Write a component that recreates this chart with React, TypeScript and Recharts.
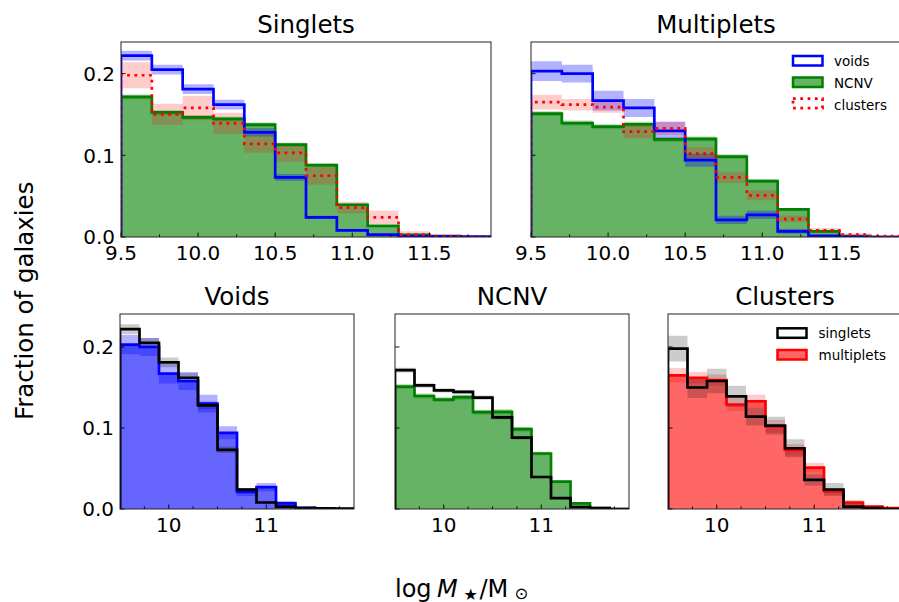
import React from 'react';
import { ComposedChart, Area, Line, XAxis, YAxis } from 'recharts';

// bin edges in log M*/Msun (0.2 dex bins)
const EDGES = [9.5, 9.7, 9.9, 10.1, 10.3, 10.5, 10.7, 10.9, 11.1, 11.3, 11.5, 11.7, 11.9];

// singlet fractions per bin
const voidsS = [0.222, 0.205, 0.181, 0.162, 0.128, 0.073, 0.024, 0.008, 0.003, 0.001, 0.0008, 0.0004];
const voidsSErr = [0.006, 0.006, 0.006, 0.006, 0.005, 0.004, 0.002, 0.0012, 0.0008, 0.0005, 0.0004, 0.0003];
const ncnvS = [0.1715, 0.1525, 0.1465, 0.1445, 0.1375, 0.113, 0.088, 0.0395, 0.0135, 0.0025, 0.001, 0];
const ncnvSErr = [0.003, 0.0028, 0.0027, 0.0027, 0.0027, 0.0024, 0.0021, 0.0014, 0.0008, 0.0004, 0.0002, 0];
const clusS = [0.198, 0.15, 0.158, 0.139, 0.114, 0.103, 0.075, 0.036, 0.024, 0.003, 0.001, 0];
const clusSErr = [0.016, 0.013, 0.015, 0.013, 0.011, 0.011, 0.011, 0.007, 0.008, 0.004, 0.001, 0];

// multiplet fractions per bin
const voidsM = [0.203, 0.2, 0.167, 0.158, 0.13, 0.094, 0.021, 0.027, 0.007, 0.0015, 0.0005, 0];
const voidsMErr = [0.012, 0.011, 0.012, 0.011, 0.011, 0.008, 0.005, 0.005, 0.003, 0.0012, 0.0006, 0];
const ncnvM = [0.151, 0.1395, 0.135, 0.138, 0.1195, 0.12, 0.0985, 0.0685, 0.0337, 0.007, 0.001, 0];
const ncnvMErr = [0.003, 0.003, 0.003, 0.003, 0.003, 0.003, 0.0027, 0.0023, 0.0016, 0.0008, 0.0003, 0];
const clusM = [0.165, 0.162, 0.159, 0.129, 0.133, 0.102, 0.073, 0.051, 0.022, 0.008, 0.003, 0.001];
const clusMErr = [0.009, 0.007, 0.007, 0.008, 0.008, 0.008, 0.007, 0.006, 0.004, 0.003, 0.0015, 0.0005];

const TOP_MAJOR = [9.5, 10.0, 10.5, 11.0, 11.5];
const TOP_LABELS = ['9.5', '10.0', '10.5', '11.0', '11.5'];
const TOP_MINOR = [9.75, 10.25, 10.75, 11.25, 11.75];
const BOTTOM_MAJOR = [10, 11];
const BOTTOM_LABELS = ['10', '11'];
const BOTTOM_MINOR = [9.75, 10.25, 10.5, 10.75, 11.25, 11.5, 11.75];
const Y_TICKS = [0, 0.1, 0.2];
const Y_LABELS = ['0.0', '0.1', '0.2'];

const FONT = '"DejaVu Sans", sans-serif';
const ML = 60;
const MR = 4;
const MT = 6;
const MB = 34;

type Layer = { kind: 'fill' | 'band' | 'line'; key: string; color: string; opacity?: number; dash?: string };

function buildRows(series: Record<string, number[]>, errors: Record<string, number[]>) {
  const keys = Object.keys(series);
  const n = EDGES.length - 1;
  const row = (x: number, bin: number, zero: boolean) => {
    const r: any = { x };
    keys.forEach((k) => {
      const v = series[k][bin];
      const e = errors[k][bin];
      r[k] = zero ? 0 : v;
      r[k + 'Band'] = [Math.max(0, v - e), v + e];
    });
    return r;
  };
  const rows = [row(EDGES[0], 0, true)];
  EDGES.forEach((x, i) => rows.push(row(x, Math.min(i, n - 1), false)));
  rows.push(row(EDGES[n], n - 1, true));
  return rows;
}

function makeXTick(majors: number[], labels: string[]) {
  return (props: any) => {
    const { x, y, payload } = props;
    const idx = majors.findIndex((m) => Math.abs(m - payload.value) < 1e-6);
    const major = idx >= 0;
    return (
      <g>
        <line x1={x} x2={x} y1={y} y2={y - (major ? 4.5 : 2.7)} stroke="#000" strokeWidth={0.9} />
        {major && (
          <text x={x} y={y + 22.5} textAnchor="middle" fontSize={20} fontFamily={FONT} fill="#000">
            {labels[idx]}
          </text>
        )}
      </g>
    );
  };
}

function makeYTick(showLabels: boolean) {
  return (props: any) => {
    const { x, y, payload } = props;
    const idx = Y_TICKS.findIndex((t) => Math.abs(t - payload.value) < 1e-6);
    return (
      <g>
        <line x1={x} x2={x + 4.5} y1={y} y2={y} stroke="#000" strokeWidth={0.9} />
        {showLabels && (
          <text x={x - 6} y={y + 7.3} textAnchor="end" fontSize={20} fontFamily={FONT} fill="#000">
            {Y_LABELS[idx]}
          </text>
        )}
      </g>
    );
  };
}

interface PanelProps {
  left: number;
  top: number;
  w: number;
  h: number;
  yMax: number;
  rows: any[];
  layers: Layer[];
  majors: number[];
  labels: string[];
  minors: number[];
  showY: boolean;
}

function Panel(p: PanelProps) {
  const ticks = [...p.majors, ...p.minors].sort((a, b) => a - b);
  return (
    <div style={{ position: 'absolute', left: p.left - ML, top: p.top - MT }}>
      <ComposedChart
        width={p.w + ML + MR}
        height={p.h + MT + MB}
        data={p.rows}
        margin={{ top: MT, right: MR, bottom: 0, left: 0 }}
      >
        <XAxis
          dataKey="x"
          type="number"
          domain={[9.5, 11.9]}
          allowDataOverflow
          ticks={ticks}
          interval={0}
          tick={makeXTick(p.majors, p.labels)}
          tickLine={false}
          axisLine={false}
          tickSize={0}
          tickMargin={0}
          height={MB}
        />
        <YAxis
          type="number"
          domain={[0, p.yMax]}
          allowDataOverflow
          ticks={Y_TICKS}
          interval={0}
          tick={makeYTick(p.showY)}
          tickLine={false}
          axisLine={false}
          tickSize={0}
          tickMargin={0}
          width={ML}
        />
        {p.layers.map((l, i) => {
          if (l.kind === 'fill') {
            return (
              <Area key={i} type="stepAfter" dataKey={l.key} stroke="none" fill={l.color}
                fillOpacity={l.opacity ?? 0.6} dot={false} activeDot={false} isAnimationActive={false} />
            );
          }
          if (l.kind === 'band') {
            return (
              <Area key={i} type="stepAfter" dataKey={l.key + 'Band'} stroke="none" fill={l.color}
                fillOpacity={l.opacity ?? 0.3} dot={false} activeDot={false} isAnimationActive={false} />
            );
          }
          return (
            <Line key={i} type="stepAfter" dataKey={l.key} stroke={l.color} strokeWidth={2.7}
              strokeDasharray={l.dash} dot={false} activeDot={false} isAnimationActive={false} />
          );
        })}
      </ComposedChart>
    </div>
  );
}

const singletRows = buildRows(
  { v: voidsS, n: ncnvS, c: clusS },
  { v: voidsSErr, n: ncnvSErr, c: clusSErr },
);
const multipletRows = buildRows(
  { v: voidsM, n: ncnvM, c: clusM },
  { v: voidsMErr, n: ncnvMErr, c: clusMErr },
);
const voidRows = buildRows({ s: voidsS, m: voidsM }, { s: voidsSErr, m: voidsMErr });
const ncnvRows = buildRows({ s: ncnvS, m: ncnvM }, { s: ncnvSErr, m: ncnvMErr });
const clusRows = buildRows({ s: clusS, m: clusM }, { s: clusSErr, m: clusMErr });

const DOTS = '2.75 4.55';

const envLayers: Layer[] = [
  { kind: 'fill', key: 'n', color: '#008000', opacity: 0.6 },
  { kind: 'band', key: 'n', color: '#008000', opacity: 0.3 },
  { kind: 'line', key: 'n', color: '#008000' },
  { kind: 'band', key: 'v', color: '#0000ff', opacity: 0.3 },
  { kind: 'line', key: 'v', color: '#0000ff' },
  { kind: 'band', key: 'c', color: '#ff0000', opacity: 0.2 },
  { kind: 'line', key: 'c', color: '#ff0000', dash: DOTS },
];

const sampleLayers = (color: string, bandOpacity: number): Layer[] => [
  { kind: 'fill', key: 'm', color, opacity: 0.6 },
  { kind: 'band', key: 'm', color, opacity: bandOpacity },
  { kind: 'line', key: 'm', color },
  { kind: 'band', key: 's', color: '#000', opacity: 0.2 },
  { kind: 'line', key: 's', color: '#000' },
];

const TOP_Y = 42;
const BOT_Y = 314;
const PH = 195;
const TOP_W = 370;
const BOT_W = 234;

const frames = [
  { x: 121, y: TOP_Y, w: TOP_W },
  { x: 531, y: TOP_Y, w: TOP_W },
  { x: 120, y: BOT_Y, w: BOT_W },
  { x: 395, y: BOT_Y, w: BOT_W },
  { x: 668, y: BOT_Y, w: BOT_W },
];

const titles = ['Singlets', 'Multiplets', 'Voids', 'NCNV', 'Clusters'];

export default function App() {
  const txt = { fontFamily: FONT, fill: '#000' };
  return (
    <div style={{ position: 'absolute', left: 0, top: 0, width: 899, height: 602, overflow: 'hidden', background: '#fff' }}>
      <Panel left={121} top={TOP_Y} w={TOP_W} h={PH} yMax={0.2387} rows={singletRows} layers={envLayers}
        majors={TOP_MAJOR} labels={TOP_LABELS} minors={TOP_MINOR} showY />
      <Panel left={531} top={TOP_Y} w={TOP_W} h={PH} yMax={0.2387} rows={multipletRows} layers={envLayers}
        majors={TOP_MAJOR} labels={TOP_LABELS} minors={TOP_MINOR} showY={false} />
      <Panel left={120} top={BOT_Y} w={BOT_W} h={PH} yMax={0.2407} rows={voidRows} layers={sampleLayers('#0000ff', 0.3)}
        majors={BOTTOM_MAJOR} labels={BOTTOM_LABELS} minors={BOTTOM_MINOR} showY />
      <Panel left={395} top={BOT_Y} w={BOT_W} h={PH} yMax={0.2407} rows={ncnvRows} layers={sampleLayers('#008000', 0.3)}
        majors={BOTTOM_MAJOR} labels={BOTTOM_LABELS} minors={BOTTOM_MINOR} showY={false} />
      <Panel left={668} top={BOT_Y} w={BOT_W} h={PH} yMax={0.2407} rows={clusRows} layers={sampleLayers('#ff0000', 0.2)}
        majors={BOTTOM_MAJOR} labels={BOTTOM_LABELS} minors={BOTTOM_MINOR} showY={false} />

      <svg width={899} height={602} style={{ position: 'absolute', left: 0, top: 0, pointerEvents: 'none' }}>
        {frames.map((f, i) => (
          <g key={i}>
            <rect x={f.x} y={f.y} width={f.w} height={PH} fill="none" stroke="#222" strokeWidth={1} />
            <text x={f.x + f.w / 2} y={f.y - 9} textAnchor="middle" fontSize={24.5} {...txt}>{titles[i]}</text>
          </g>
        ))}

        {/* environment legend */}
        <rect x={793} y={56} width={29.5} height={9.5} fill="none" stroke="#0000ff" strokeWidth={2.5} />
        <text x={834} y={66} fontSize={13.5} {...txt}>voids</text>
        <rect x={793} y={77.5} width={29.5} height={9.5} fill="#008000" fillOpacity={0.6} stroke="#008000" strokeWidth={2.5} />
        <text x={834} y={87.8} fontSize={13.5} {...txt}>NCNV</text>
        <rect x={793} y={98.5} width={29.5} height={9.5} fill="none" stroke="#ff0000" strokeWidth={2.75} strokeDasharray={DOTS} />
        <text x={834} y={109.5} fontSize={13.5} {...txt}>clusters</text>

        {/* sample legend */}
        <rect x={777.5} y={328.3} width={29} height={9.5} fill="none" stroke="#000" strokeWidth={2.5} />
        <text x={818.5} y={338} fontSize={13.5} {...txt}>singlets</text>
        <rect x={777.5} y={350} width={29} height={9.5} fill="#ff0000" fillOpacity={0.6} stroke="#ff0000" strokeWidth={2.5} />
        <text x={818.5} y={359.7} fontSize={13.5} {...txt}>multiplets</text>

        <text x={33} y={300.8} transform="rotate(-90 33 300.8)" textAnchor="middle" fontSize={24.5} {...txt}>
          Fraction of galaxies
        </text>

        <text x={395} y={596.7} fontSize={24} {...txt}>log</text>
        <text x={437} y={596.7} fontSize={24} fontStyle="italic" {...txt}>M</text>
        <text x={463.5} y={599.5} fontSize={16} {...txt}>★</text>
        <text x={479.5} y={596.7} fontSize={24} {...txt}>/M</text>
        <text x={514.5} y={599} fontSize={16.5} {...txt}>⊙</text>
      </svg>
    </div>
  );
}
